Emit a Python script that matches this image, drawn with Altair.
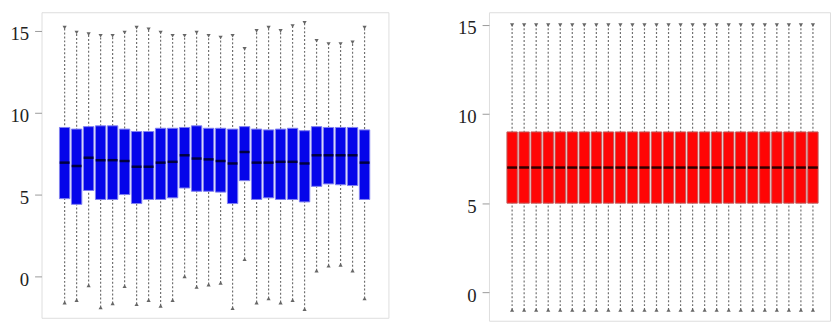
import altair as alt
import pandas as pd

# ---- data ----
box_index = list(range(1, 27))

left_max = [15.2, 14.9, 14.8, 14.7, 14.7, 14.9, 15.2, 15.1, 14.9, 14.7, 14.7, 14.9, 14.7,
            14.6, 14.7, 13.9, 15.0, 15.2, 15.0, 15.3, 15.5, 14.4, 14.2, 14.2, 14.3, 15.2]
left_q3 = [9.1, 9.0, 9.15, 9.2, 9.2, 9.0, 8.85, 8.85, 9.05, 9.05, 9.1, 9.2, 9.05,
           9.05, 9.0, 9.15, 9.0, 8.95, 9.0, 9.05, 8.9, 9.15, 9.1, 9.1, 9.1, 8.95]
left_med = [6.95, 6.75, 7.25, 7.1, 7.1, 7.05, 6.7, 6.7, 6.95, 7.0, 7.4, 7.2, 7.15,
            7.05, 6.9, 7.6, 6.95, 6.95, 7.0, 7.0, 6.9, 7.4, 7.4, 7.4, 7.4, 6.95]
left_q1 = [4.75, 4.4, 5.25, 4.7, 4.7, 5.0, 4.45, 4.7, 4.7, 4.8, 5.4, 5.2, 5.2,
           5.15, 4.45, 5.85, 4.7, 4.8, 4.7, 4.7, 4.55, 5.5, 5.65, 5.6, 5.55, 4.7]
left_min = [-1.6, -1.45, -0.55, -1.9, -1.65, -0.6, -1.7, -1.45, -1.8, -1.45, 0.0, -0.65, -0.5,
            -0.4, -1.95, 1.05, -1.6, -1.35, -1.6, -1.45, -2.0, 0.35, 0.65, 0.7, 0.35, -1.35]

right_max = [15, 15, 15, 15, 15, 15, 15, 15, 15, 15, 15, 15, 15,
             15, 15, 15, 15, 15, 15, 15, 15, 15, 15, 15, 15, 15]
right_q3 = [9, 9, 9, 9, 9, 9, 9, 9, 9, 9, 9, 9, 9,
            9, 9, 9, 9, 9, 9, 9, 9, 9, 9, 9, 9, 9]
right_med = [7, 7, 7, 7, 7, 7, 7, 7, 7, 7, 7, 7, 7,
             7, 7, 7, 7, 7, 7, 7, 7, 7, 7, 7, 7, 7]
right_q1 = [5, 5, 5, 5, 5, 5, 5, 5, 5, 5, 5, 5, 5,
            5, 5, 5, 5, 5, 5, 5, 5, 5, 5, 5, 5, 5]
right_min = [-1, -1, -1, -1, -1, -1, -1, -1, -1, -1, -1, -1, -1,
             -1, -1, -1, -1, -1, -1, -1, -1, -1, -1, -1, -1, -1]

y_ticks = [0, 5, 10, 15]


def panel(mx, q3, med, q1, mn, xdom, ydom, w, h, fill, edge, medcol):
    df = pd.DataFrame({"i": box_index, "mx": mx, "q3": q3, "med": med, "q1": q1, "mn": mn})
    x = alt.X("i:Q", scale=alt.Scale(domain=xdom, nice=False, zero=False), axis=None)
    yaxis = alt.Axis(values=y_ticks, grid=False, domain=False, tickColor="#999999",
                     tickSize=7, tickWidth=1, labelPadding=6,
                     labelFont="Times New Roman, Liberation Serif, serif",
                     labelFontSize=19, labelColor="#222222", labelOffset=3,
                     minExtent=33, maxExtent=33, title=None)
    yscale = alt.Scale(domain=ydom, nice=False, zero=False)
    base = alt.Chart(df)
    whisk = base.mark_rule(color="#707070", strokeWidth=1.2, strokeDash=[2, 2]).encode(
        x=x, y=alt.Y("mn:Q", scale=yscale, axis=yaxis), y2="mx:Q")
    topcap = base.mark_point(shape="triangle-down", filled=True, size=18, color="#666666",
                             opacity=1).encode(x=x, y=alt.Y("mx:Q"))
    botcap = base.mark_point(shape="triangle-up", filled=True, size=18, color="#666666",
                             opacity=1).encode(x=x, y=alt.Y("mn:Q"))
    box = base.mark_bar(size=10.5, color=fill, stroke=edge, strokeWidth=1).encode(
        x=x, y=alt.Y("q1:Q"), y2="q3:Q")
    medl = base.mark_tick(orient="horizontal", size=10, thickness=2.5, color=medcol,
                          opacity=1).encode(x=x, y=alt.Y("med:Q"))
    return alt.layer(whisk, topcap, botcap, box, medl).properties(width=w, height=h)


left = panel(left_max, left_q3, left_med, left_q1, left_min,
             [-0.516, 27.58], [-2.53, 16.14], 352, 310, "#0505ea", "#8080f0", "#000040")
right = panel(right_max, right_q3, right_med, right_q1, right_min,
              [-0.512, 27.01], [-1.6, 15.72], 346, 313, "#ff0505", "#c06060", "#300000")

chart = alt.hconcat(left, right, spacing=67).resolve_scale(y="independent").properties(
    padding={"left": 0, "top": 1, "right": 0, "bottom": 0}
).configure_view(stroke="#aaaaaa", strokeWidth=2).configure(background="white")

chart.save("out.html", embed_options={"renderer": "svg", "actions": False})
